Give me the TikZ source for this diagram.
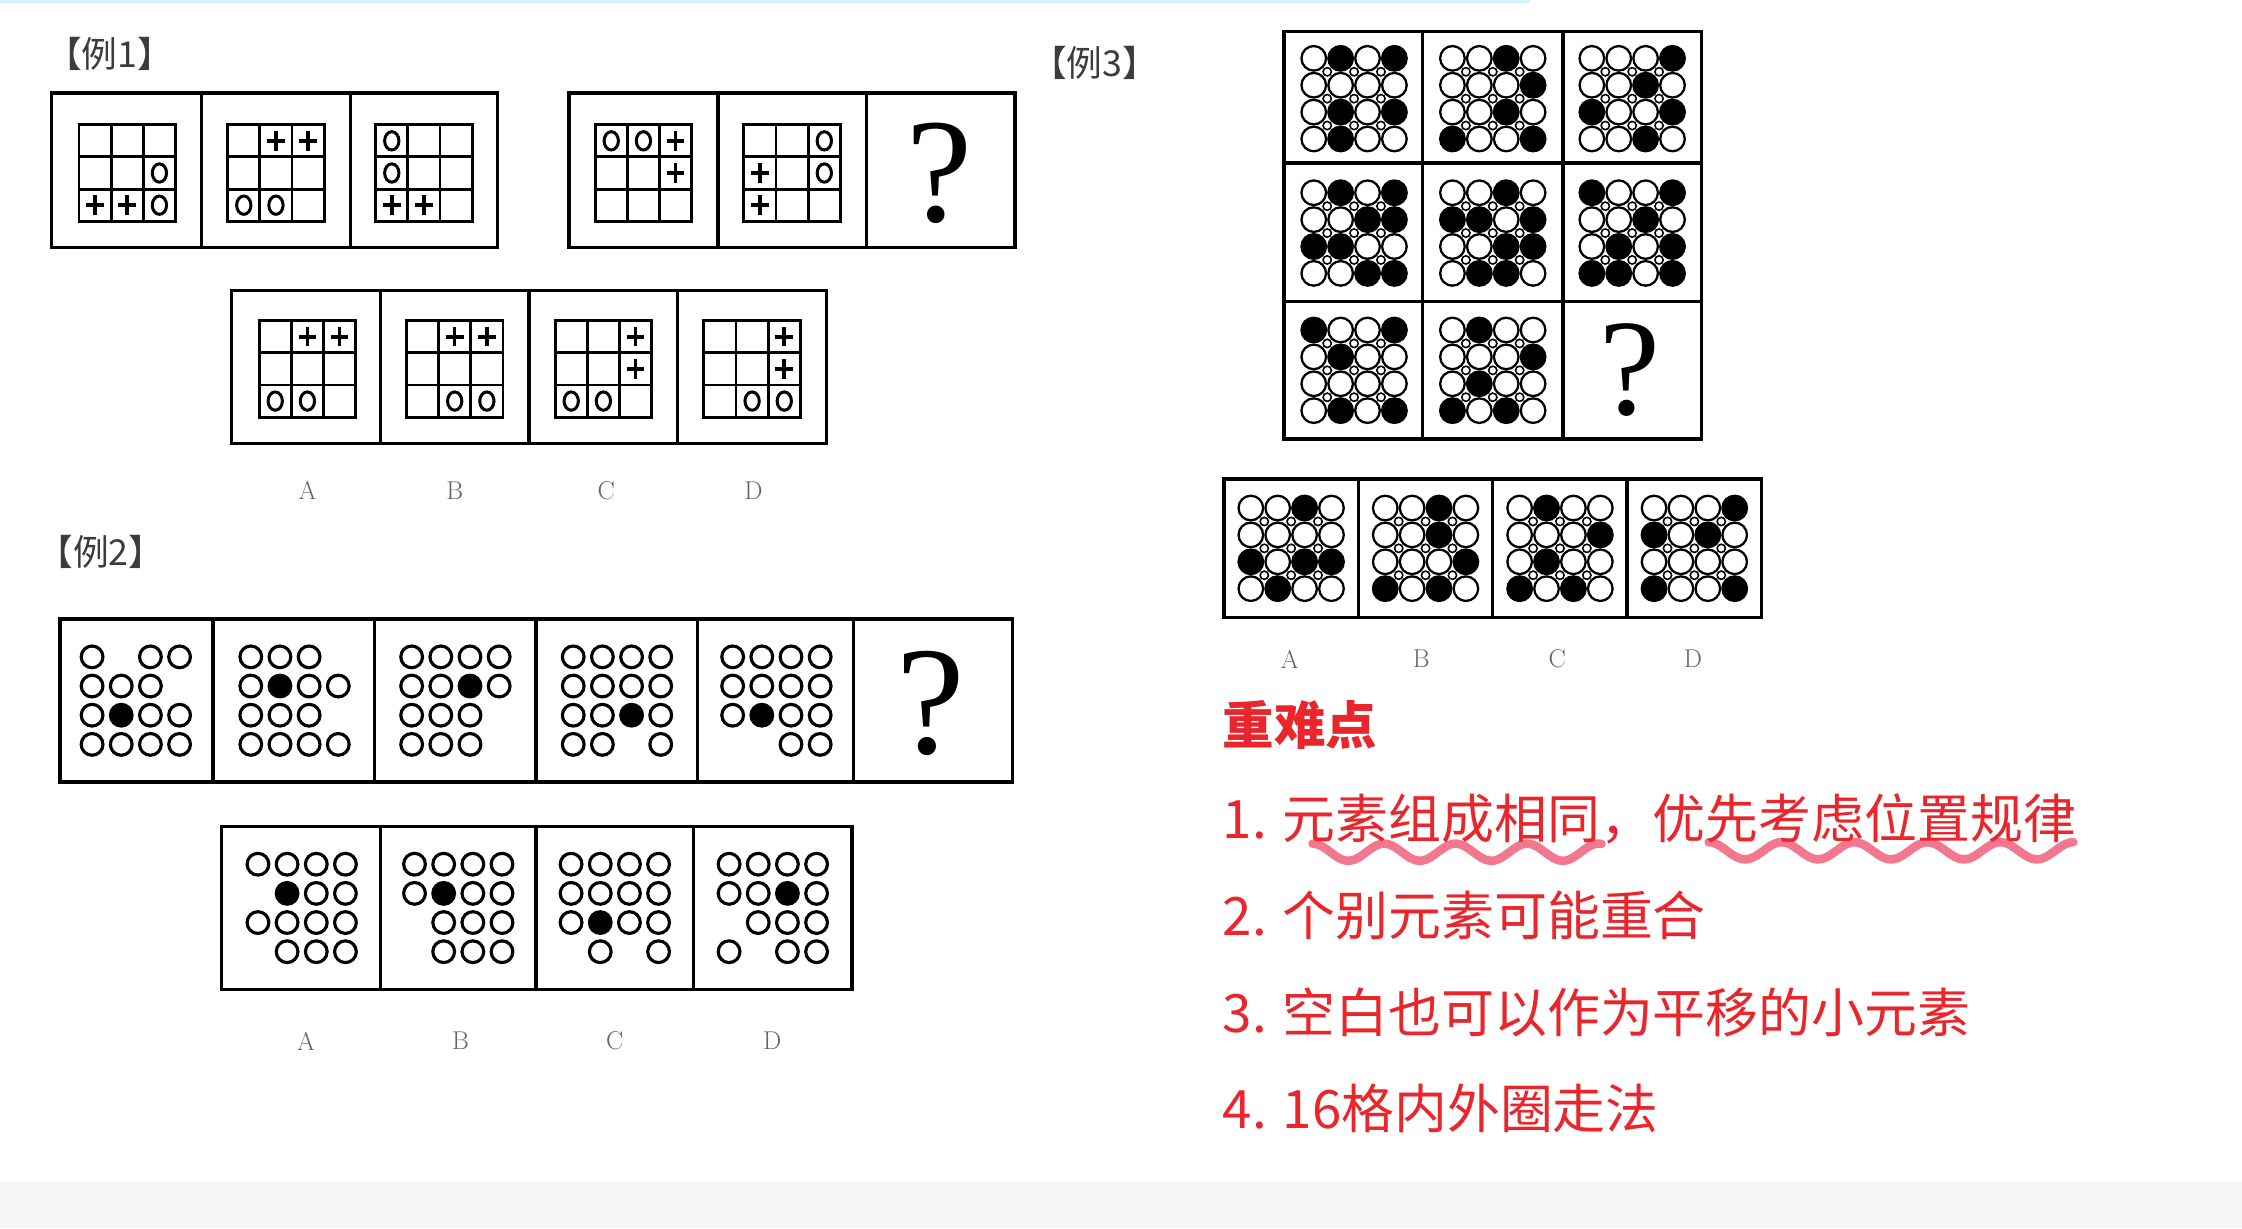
\documentclass[tikz,border=0pt]{standalone}
\usepackage{fontspec}
\newfontfamily\cjk{Noto Sans CJK SC}
\newfontfamily\qserif{Liberation Serif}
\definecolor{redtxt}{RGB}{232,38,44}
\definecolor{wavec}{RGB}{240,96,124}
\definecolor{labgray}{RGB}{60,60,60}
\definecolor{abcgray}{RGB}{100,100,100}
\definecolor{bandgray}{RGB}{245,245,245}
\definecolor{topcyan}{RGB}{212,242,250}
\tikzset{
  box/.style={line width=2.4pt, draw=black},
  gl/.style={line width=2pt, draw=black},
  osym/.style={line width=2.1pt, draw=black},
  psym/.style={line width=2.5pt, draw=black},
  ring/.style={line width=2.2pt, draw=black},
  dring/.style={line width=1.6pt, draw=black, fill=white},
  dblack/.style={line width=1.6pt, draw=black, fill=black},
  dsmall/.style={line width=1.1pt, draw=black, fill=white},
  exlab/.style={font=\cjk\fontsize{25}{27}\selectfont, text=labgray, anchor=west, inner sep=0pt},
  abc/.style={font=\fontsize{18}{20}\selectfont, text=abcgray, inner sep=0pt},
  qmark/.style={inner sep=0pt},
  note/.style={font=\cjk\fontsize{37}{40}\selectfont, text=redtxt, anchor=west, inner sep=0pt},
  wave/.style={line width=6pt, draw=wavec, opacity=0.85, line cap=round, line join=round},
}
% 3x3 grid with o / p / n entries
\newcommand\gridthree[3]{%
  \begin{scope}[shift={(#1,#2)}]
    \foreach \k in {0,1,2,3}{
      \draw[gl] ({-33.75+\k*22.5},-33.75) -- ({-33.75+\k*22.5},33.75);
      \draw[gl] (-34.75,{-33.75+\k*22.5}) -- (34.75,{-33.75+\k*22.5});
    }
    \foreach \s [count=\i from 0] in {#3}{
      \pgfmathtruncatemacro\rr{div(\i,3)}
      \pgfmathtruncatemacro\cc{mod(\i,3)}
      \pgfmathsetmacro\xx{-22.5+22.5*\cc}
      \pgfmathsetmacro\yy{-22.5+22.5*\rr}
      \if\s o \draw[osym] (\xx,\yy) ellipse [x radius=5, y radius=6.4];\fi
      \if\s p \draw[psym] (\xx-6.2,\yy) -- (\xx+6.2,\yy) (\xx,\yy-6.8) -- (\xx,\yy+6.8);\fi
    }
  \end{scope}}
% 4x4 rings with o / b / n entries
\newcommand\ringgrid[3]{%
  \begin{scope}[shift={(#1,#2)}]
    \foreach \s [count=\i from 0] in {#3}{
      \pgfmathtruncatemacro\rr{div(\i,4)}
      \pgfmathtruncatemacro\cc{mod(\i,4)}
      \pgfmathsetmacro\xx{-30.6+20.4*\cc}
      \pgfmathsetmacro\yy{-30.6+20.4*\rr}
      \if\s o \draw[ring] (\xx,\yy) circle [radius=7.6];\fi
      \if\s b \fill[black] (\xx,\yy) circle [radius=8.7];\fi
    }
  \end{scope}}
% 4x4 touching circles with w / b entries and small interstitial circles
\newcommand\dotgrid[3]{%
  \begin{scope}[shift={(#1,#2)}]
    \foreach \s [count=\i from 0] in {#3}{
      \pgfmathtruncatemacro\rr{div(\i,4)}
      \pgfmathtruncatemacro\cc{mod(\i,4)}
      \pgfmathsetmacro\xx{-28.2+18.8*\cc}
      \pgfmathsetmacro\yy{-28.2+18.8*\rr}
      \if\s w \draw[dring] (\xx,\yy) circle [radius=8.6];\fi
      \if\s b \draw[dblack] (\xx,\yy) circle [radius=8.6];\fi
    }
    \foreach \a in {-18.8,0,18.8}{
      \foreach \b in {-18.8,0,18.8}{
        \draw[dsmall] (\a,\b) circle [radius=2.9];
      }
    }
  \end{scope}}
\begin{document}
\begin{tikzpicture}[x=1pt,y=-1pt]
\useasboundingbox (0,0) rectangle (1568,858.9);
\fill[white] (0,0) rectangle (1568,858.9);
\fill[bandgray] (0,827) rectangle (1568,858.9);
\fill[topcyan] (0,0) rectangle (1070,2.2);

% ===== Example 1 =====
\node[exlab] (l1) at (32,38) {【例1】};
\draw[box] (36,65) rectangle (348,173);
\draw[box] (141,65) -- (141,173) (245,65) -- (245,173);
\draw[box] (398,65) rectangle (710,173);
\draw[box] (502,65) -- (502,173) (606,65) -- (606,173);
\gridthree{89}{121}{n,n,n,n,n,o,p,p,o}
\gridthree{193}{121}{n,p,p,n,n,n,o,o,n}
\gridthree{296.5}{121}{o,n,n,o,n,n,p,p,n}
\gridthree{450}{121}{o,o,p,n,n,p,n,n,n}
\gridthree{554}{121}{n,n,o,p,n,o,p,n,n}
\node[qmark, font=\qserif\fontsize{104}{104}\selectfont] (q1) at (657,121) {?};

\draw[box] (162,203) rectangle (578,310);
\draw[box] (266,203) -- (266,310) (370,203) -- (370,310) (474,203) -- (474,310);
\gridthree{215}{258}{n,p,p,n,n,n,o,o,n}
\gridthree{318}{258}{n,p,p,n,n,n,n,o,o}
\gridthree{422}{258}{n,n,p,n,n,p,o,o,n}
\gridthree{526}{258}{n,n,p,n,n,p,n,o,o}
\node[abc] (a1) at (215,343) {A};
\node[abc] (b1) at (318,343) {B};
\node[abc] (c1) at (424,343) {C};
\node[abc] (d1) at (527,343) {D};

% ===== Example 2 =====
\node[exlab] (l2) at (26,386) {【例2】};
\draw[box] (42,433) rectangle (708,547);
\draw[box] (149,433) -- (149,547) (262,433) -- (262,547) (375,433) -- (375,547)
           (488,433) -- (488,547) (597,433) -- (597,547);
\ringgrid{95}{490}{o,n,o,o,o,o,o,n,o,b,o,o,o,o,o,o}
\ringgrid{206}{490}{o,o,o,n,o,b,o,o,o,o,o,n,o,o,o,o}
\ringgrid{318.5}{490}{o,o,o,o,o,o,b,o,o,o,o,n,o,o,o,n}
\ringgrid{431.5}{490}{o,o,o,o,o,o,o,o,o,o,b,o,o,o,n,o}
\ringgrid{543}{490}{o,o,o,o,o,o,o,o,o,b,o,o,n,n,o,o}
\node[qmark, font=\qserif\fontsize{108}{108}\selectfont] (q2) at (651,492) {?};

\draw[box] (155,578) rectangle (596,692);
\draw[box] (266,578) -- (266,692) (375,578) -- (375,692) (485,578) -- (485,692);
\ringgrid{211}{635}{o,o,o,o,n,b,o,o,o,o,o,o,n,o,o,o}
\ringgrid{320.5}{635}{o,o,o,o,o,b,o,o,n,o,o,o,n,o,o,o}
\ringgrid{430}{635}{o,o,o,o,o,o,o,o,o,b,o,o,n,o,n,o}
\ringgrid{540.5}{635}{o,o,o,o,o,o,b,o,n,o,o,o,o,n,o,o}
\node[abc] (a2) at (214,728) {A};
\node[abc] (b2) at (322,728) {B};
\node[abc] (c2) at (430,728) {C};
\node[abc] (d2) at (540,728) {D};

% ===== Example 3 =====
\node[exlab] (l3) at (721,44) {【例3】};
\draw[box] (898,22) rectangle (1190,307);
\draw[box] (995,22) -- (995,307) (1093,22) -- (1093,307)
           (898,114) -- (1190,114) (898,211) -- (1190,211);
\dotgrid{947}{69}{w,b,w,b,w,w,w,w,w,b,w,b,w,b,w,w}
\dotgrid{1044}{69}{w,w,b,w,w,w,w,b,w,w,b,w,b,w,w,b}
\dotgrid{1141.5}{69}{w,w,w,b,w,w,b,w,b,w,w,b,w,w,b,w}
\dotgrid{947}{163}{w,b,w,b,w,w,b,b,b,b,w,w,w,w,b,b}
\dotgrid{1044}{163}{w,w,b,w,b,b,w,b,w,w,b,b,w,b,b,w}
\dotgrid{1141.5}{163}{b,w,w,b,w,w,b,w,w,b,w,b,b,b,w,b}
\dotgrid{947}{259}{b,w,w,b,w,b,w,w,w,w,w,w,w,b,w,b}
\dotgrid{1044}{259}{w,b,w,w,w,w,w,b,w,b,w,w,b,w,b,w}
\node[qmark, font=\qserif\fontsize{96}{96}\selectfont] (q3) at (1140,259) {?};

\draw[box] (856,335) rectangle (1232,432);
\draw[box] (950,335) -- (950,432) (1044,335) -- (1044,432) (1138,335) -- (1138,432);
\dotgrid{903}{383.5}{w,w,b,w,w,w,w,w,b,w,b,b,w,b,w,w}
\dotgrid{997}{383.5}{w,w,b,w,w,w,b,w,w,w,w,b,b,w,b,w}
\dotgrid{1091}{383.5}{w,b,w,w,w,w,w,b,w,b,w,w,b,w,b,w}
\dotgrid{1185}{383.5}{w,w,w,b,b,w,b,w,w,w,w,w,b,w,w,b}
\node[abc] (a3) at (902,461) {A};
\node[abc] (b3) at (994,461) {B};
\node[abc] (c3) at (1089,461) {C};
\node[abc] (d3) at (1184,461) {D};

% ===== Notes =====
\node[note, font=\cjk\bfseries\fontsize{36}{40}\selectfont] (h) at (855,507) {重难点};
\draw[wave] plot[domain=918:1120, samples=90] (\x, {596 + 6*sin(((\x-918)/50)*360 - 90)});
\draw[wave] plot[domain=1195:1450, samples=110] (\x, {595 + 6*sin(((\x-1195)/51)*360 - 90)});
\node[note] (n1) at (855,573) {1. 元素组成相同，优先考虑位置规律};
\node[note] (n2) at (855,640) {2. 个别元素可能重合};
\node[note] (n3) at (855,708) {3. 空白也可以作为平移的小元素};
\node[note] (n4) at (855,775) {4. 16格内外圈走法};
\end{tikzpicture}
\end{document}
